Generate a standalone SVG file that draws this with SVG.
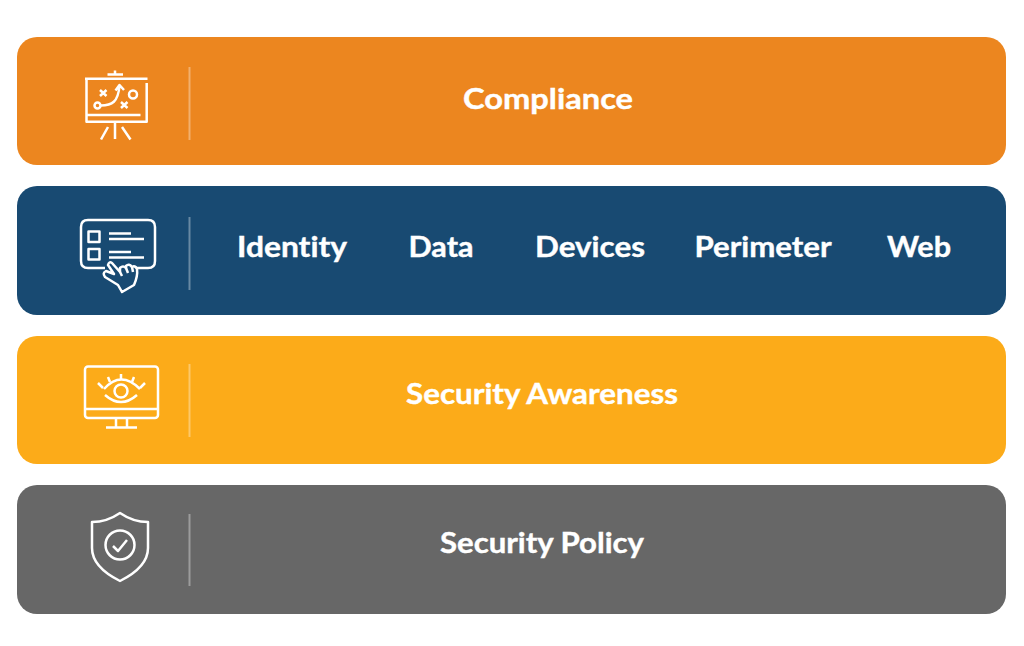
<svg xmlns="http://www.w3.org/2000/svg" width="1024" height="646" viewBox="0 0 1024 646">
<style>
.bar{stroke:none}
.sep{stroke:#fff;stroke-opacity:.35;stroke-width:2;fill:none}
.ic{stroke:#fff;stroke-width:2.500;fill:none;stroke-linecap:butt;stroke-linejoin:round}
.t{font-family:"Lato","Open Sans",sans-serif;font-weight:700;font-size:29px;fill:#fff;stroke:#fff;stroke-width:.4;text-anchor:middle;font-variant-ligatures:none}
</style>
<rect width="1024" height="646" fill="#fff"/>
<g id="compliance">
<rect class="bar" x="17" y="37" width="989" height="128" rx="20" fill="#ec861f"/>
<line class="sep" x1="189.500" y1="67" x2="189.500" y2="140"/>
<g class="ic">
<path d="M107.500 74.500H123M115 74.500V70.500M85 78.800H147.500M86.500 78.800V121.800H146.700V83M86.500 115H140.500M115 122V139M108 127L101 139.500M122 127L130.500 139.500"/>
<path d="M100 90L106.500 96M106.500 90L100 96M121 102L127.500 108M127.500 102L121 108"/>
<circle cx="97.500" cy="105.500" r="3"/><circle cx="133" cy="94.500" r="4"/>
<path d="M101 105.500C112 105.500 118 102 119.500 86M115.500 90.500L119.500 85L124 90"/>
</g>
<text class="t" x="548" y="109" textLength="170" lengthAdjust="spacingAndGlyphs">Compliance</text>
</g>
<g id="controls">
<rect class="bar" x="17" y="186" width="989" height="129" rx="20" fill="#184a72"/>
<line class="sep" x1="189.500" y1="217" x2="189.500" y2="290"/>
<g class="ic">
<path d="M105 268H88Q81 268 81 261V227Q81 220 88 220H148Q155 220 155 227V261Q155 268 148 268H135"/>
<rect x="88.500" y="231.500" width="11" height="10.500"/><rect x="88.500" y="249" width="11" height="10.500"/>
<path d="M109 233.500H131M109 239H144M109 252H131M109 257.500H144"/>
<path d="M118 285L105 277Q102 273 106 271L114 274L108 265Q109 261 112 263L120 272L120 268Q123 265 126 268L126 266Q129 263 132 267L132 267Q135 265 137 269Q138 276 134 285L122 292Z" fill="#184a72"/>
<path d="M120 272L122 276M126 268L128 273M132 267L133 272"/>
</g>
<text class="t" x="292" y="257" textLength="110" lengthAdjust="spacingAndGlyphs">Identity</text>
<text class="t" x="441" y="257" textLength="65" lengthAdjust="spacingAndGlyphs">Data</text>
<text class="t" x="590" y="257" textLength="110" lengthAdjust="spacingAndGlyphs">Devices</text>
<text class="t" x="763" y="257" textLength="137" lengthAdjust="spacingAndGlyphs">Perimeter</text>
<text class="t" x="919" y="257" textLength="64" lengthAdjust="spacingAndGlyphs">Web</text>
</g>
<g id="awareness">
<rect class="bar" x="17" y="336" width="989" height="128" rx="20" fill="#fcab19"/>
<line class="sep" x1="189.500" y1="364" x2="189.500" y2="437"/>
<g class="ic">
<rect x="85" y="366.500" width="73" height="51.500" rx="3"/>
<path d="M86 409H157M116 418.500V427M127 418.500V427M106 427.500H137"/>
<circle cx="121" cy="391" r="6.500"/>
<path d="M104 389Q121 370 140 389M105 395Q121 409 137 395"/>
<path d="M98 383L103 388M108 377L110 382M121 374V379M134 377L132 382M145 383L140 388"/>
</g>
<text class="t" x="542" y="404" textLength="272" lengthAdjust="spacingAndGlyphs">Security Awareness</text>
</g>
<g id="policy">
<rect class="bar" x="17" y="485" width="989" height="129" rx="20" fill="#676767"/>
<line class="sep" x1="189.500" y1="514" x2="189.500" y2="586"/>
<g class="ic">
<path d="M120 513Q107 522 92 522V548Q92 567 120 581Q148 567 148 548V522Q133 522 120 513Z"/>
<circle cx="120" cy="545" r="14.500"/>
<path d="M113 546L118 551L127 540"/>
</g>
<text class="t" x="542" y="553" textLength="204" lengthAdjust="spacingAndGlyphs">Security Policy</text>
</g>
</svg>
